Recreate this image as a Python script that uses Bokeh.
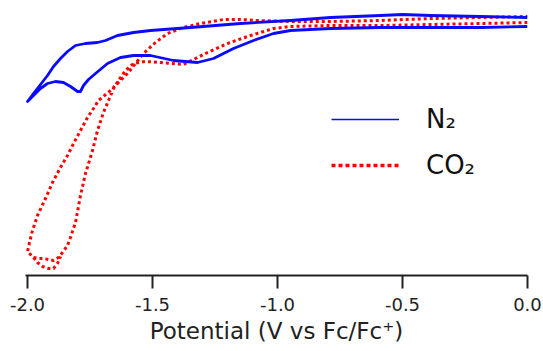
from bokeh.plotting import figure
from bokeh.models import Range1d, FixedTicker, Legend, LegendItem
from bokeh.embed import file_html
from bokeh.resources import INLINE

# ---- data: potential (V vs Fc/Fc+) and current (arbitrary units) ----
n2_fwd_v = [0.000, -0.188, -0.388, -0.588, -0.788, -0.948, -1.016, -1.096, -1.176, -1.256,
            -1.320, -1.416, -1.508, -1.576, -1.628, -1.680, -1.728, -1.756, -1.776, -1.788,
            -1.800, -1.828, -1.856, -1.888, -1.920, -1.948, -1.976, -2.000]
n2_fwd_i = [-0.6, -0.7, -0.7, -0.7, -0.8, -1.0, -1.3, -2.0, -2.8, -3.8,
            -4.2, -4.0, -3.5, -3.5, -3.7, -4.3, -5.3, -5.9, -6.5, -7.1,
            -7.1, -6.6, -6.2, -6.1, -6.3, -6.8, -7.5, -8.1]
n2_rev_v = [-2.000, -1.976, -1.948, -1.920, -1.896, -1.868, -1.840, -1.808, -1.768, -1.720,
            -1.688, -1.640, -1.576, -1.508, -1.348, -1.148, -0.948, -0.788, -0.588, -0.500,
            -0.388, -0.188, 0.000]
n2_rev_i = [-8.1, -7.3, -6.4, -5.5, -4.6, -3.8, -3.1, -2.5, -2.3, -2.2,
            -2.0, -1.5, -1.2, -1.0, -0.7, -0.3, 0.0, 0.3, 0.5, 0.6,
            0.5, 0.4, 0.3]

co2_fwd_v = [0.000, -0.188, -0.388, -0.588, -0.788, -0.948, -1.016, -1.108, -1.200, -1.280,
             -1.328, -1.376, -1.428, -1.468, -1.528, -1.576, -1.608, -1.636, -1.656, -1.676,
             -1.696, -1.720, -1.740, -1.768, -1.788, -1.808, -1.828, -1.840, -1.860, -1.876,
             -1.896, -1.916, -1.936, -1.956, -1.976, -2.000]
co2_fwd_i = [-0.2, -0.3, -0.4, -0.5, -0.5, -0.6, -0.8, -1.5, -2.3, -3.2,
             -3.8, -4.4, -4.3, -4.2, -4.1, -4.3, -5.0, -6.0, -6.8, -8.0,
             -9.2, -11.0, -13.0, -15.3, -17.5, -20.2, -21.7, -22.5, -23.2, -23.7,
             -24.0, -23.9, -23.8, -23.8, -23.7, -23.1]
co2_rev_v = [-2.000, -1.992, -1.980, -1.960, -1.928, -1.900, -1.868, -1.840, -1.816, -1.788,
             -1.760, -1.736, -1.716, -1.668, -1.628, -1.600, -1.568, -1.536, -1.488, -1.440,
             -1.376, -1.308, -1.216, -1.148, -1.080, -0.948, -0.788, -0.588, -0.388, -0.188,
             0.000]
co2_rev_i = [-23.1, -22.2, -21.0, -19.5, -17.8, -16.2, -14.7, -13.5, -12.3, -11.0,
             -9.7, -8.8, -8.0, -7.0, -6.0, -5.3, -4.3, -3.3, -2.2, -1.3,
             -0.7, -0.3, 0.1, 0.1, 0.0, -0.1, -0.1, 0.0, 0.2, 0.3,
             0.4]
# second scan near the switching potential
co2_scan2_v = [-1.976, -1.960, -1.940, -1.916, -1.896, -1.880, -1.868]
co2_scan2_i = [-23.7, -24.2, -24.6, -24.8, -24.8, -24.3, -23.6]

tick_values = [-2.0, -1.5, -1.0, -0.5, 0.0]
tick_labels = ["-2.0", "-1.5", "-1.0", "-0.5", "0.0"]
x_label = "Potential (V vs Fc/Fc\u207a)"
legend_labels = ["N\u2082", "CO\u2082"]

BLUE = "#0a0aff"
RED = "#ff0000"
FONT = "DejaVu Sans"
NAN = float("nan")

p = figure(width=543, height=351, output_backend="svg", toolbar_location=None,
           x_range=Range1d(-2.008, 0.0), y_range=Range1d(-25.5, 1.5),
           min_border_left=25, min_border_right=16, min_border_top=5, min_border_bottom=76)

n2_v = n2_fwd_v + n2_rev_v[1:]
n2_i = n2_fwd_i + n2_rev_i[1:]
co2_v = co2_fwd_v + co2_rev_v[1:]
co2_i = co2_fwd_i + co2_rev_i[1:]

p.line(co2_v, co2_i, line_color=RED, line_width=3, line_dash="3 3")
p.line(co2_scan2_v, co2_scan2_i, line_color=RED, line_width=3, line_dash="3 3")
p.line(n2_v, n2_i, line_color=BLUE, line_width=2.8, line_join="round")

# legend-only renderers (no visible data)
leg_n2 = p.line(x=[NAN], y=[NAN], line_color=BLUE, line_width=1.6)
leg_co2 = p.line(x=[NAN], y=[NAN], line_color=RED, line_width=3.5, line_dash="4 3")

legend = Legend(items=[LegendItem(label=legend_labels[0], renderers=[leg_n2]),
                       LegendItem(label=legend_labels[1], renderers=[leg_co2])],
                location=(306, 95), orientation="vertical",
                glyph_width=68, glyph_height=30, label_height=30, label_width=40,
                label_standoff=27, spacing=16, padding=0, margin=0,
                border_line_color=None, background_fill_alpha=0,
                label_text_font=FONT, label_text_font_size="26px", label_text_color="#111111")
p.add_layout(legend)

p.xgrid.visible = False
p.ygrid.visible = False
p.outline_line_color = None
p.yaxis.visible = False

ax = p.xaxis[0]
ax.ticker = FixedTicker(ticks=tick_values)
ax.major_label_overrides = {v: s for v, s in zip(tick_values, tick_labels)}
ax.minor_tick_line_color = None
ax.axis_line_color = "#222222"
ax.axis_line_width = 2
ax.major_tick_line_color = "#222222"
ax.major_tick_line_width = 2
ax.major_tick_out = 13
ax.major_tick_in = 0
ax.major_label_text_font = FONT
ax.major_label_text_font_size = "18px"
ax.major_label_text_color = "#222222"
ax.major_label_standoff = 9
ax.axis_label = x_label
ax.axis_label_text_font = FONT
ax.axis_label_text_font_size = "23px"
ax.axis_label_text_font_style = "normal"
ax.axis_label_text_color = "#222222"
ax.axis_label_standoff = 4

open("out.html", "w").write(file_html(p, INLINE))
